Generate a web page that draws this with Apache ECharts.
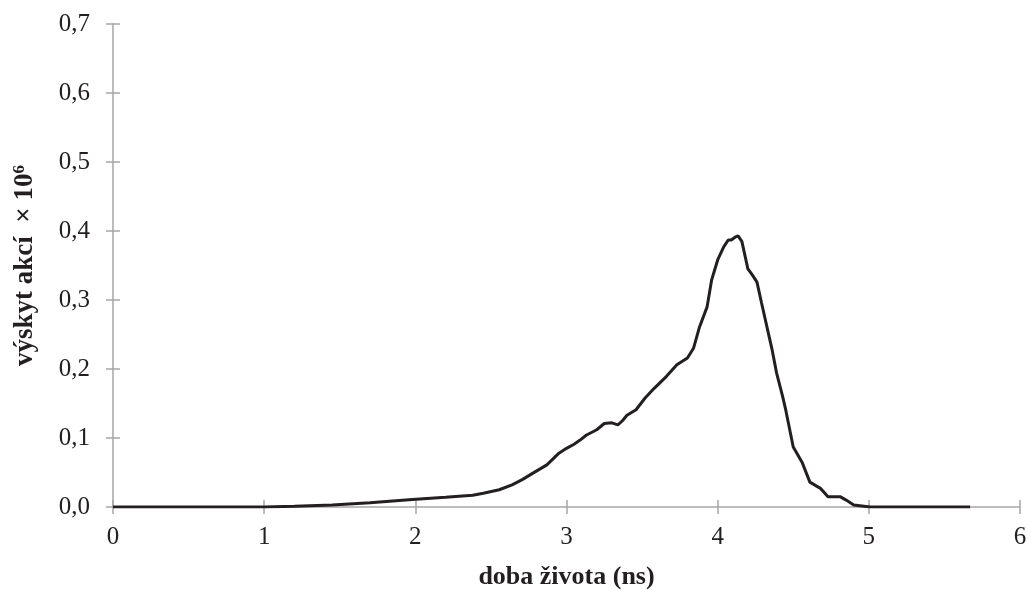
<!DOCTYPE html>
<html>
<head>
<meta charset="utf-8">
<script src="https://cdn.jsdelivr.net/npm/echarts@6/dist/echarts.min.js"></script>
<style>html,body{margin:0;padding:0;background:#fff}#c{width:1028px;height:590px}</style>
</head>
<body>
<div id="c"></div>
<script>
var lifetimeNs = [0, 0.5, 1.0, 1.2, 1.45, 1.7, 1.98, 2.2, 2.38, 2.45, 2.555, 2.64, 2.71, 2.77, 2.87, 2.95, 3.0, 3.05, 3.09, 3.13, 3.2, 3.25, 3.3, 3.34, 3.37, 3.4, 3.46, 3.52, 3.58, 3.66, 3.73, 3.8, 3.84, 3.88, 3.93, 3.96, 4.0, 4.04, 4.07, 4.09, 4.115, 4.135, 4.16, 4.18, 4.2, 4.23, 4.26, 4.29, 4.33, 4.36, 4.39, 4.43, 4.45, 4.5, 4.56, 4.61, 4.68, 4.73, 4.81, 4.85, 4.9, 5.01, 5.3, 5.67];
var occurrence = [0, 0, 0, 0.001, 0.003, 0.006, 0.011, 0.014, 0.017, 0.020, 0.025, 0.032, 0.040, 0.048, 0.061, 0.078, 0.085, 0.091, 0.097, 0.104, 0.112, 0.121, 0.122, 0.119, 0.125, 0.133, 0.141, 0.158, 0.172, 0.189, 0.206, 0.216, 0.230, 0.261, 0.290, 0.329, 0.358, 0.377, 0.387, 0.387, 0.391, 0.393, 0.385, 0.365, 0.345, 0.336, 0.326, 0.296, 0.257, 0.228, 0.194, 0.160, 0.141, 0.087, 0.064, 0.036, 0.027, 0.015, 0.015, 0.010, 0.003, 0, 0, 0];
var xTickLabels = ['0', '1', '2', '3', '4', '5', '6'];
var yTickLabels = ['0,0', '0,1', '0,2', '0,3', '0,4', '0,5', '0,6', '0,7'];
var xTitle = 'doba života (ns)';
var yTitle = 'výskyt akcí  × 10';

var font = '"Liberation Serif", "Times New Roman", serif';
var axisGray = '#a6a6a6';
var textCol = '#231f20';

var seriesData = lifetimeNs.map(function (x, i) { return [x, occurrence[i]]; });

var chart = echarts.init(document.getElementById('c'), null, {renderer: 'canvas'});
var baseX = {
  type: 'value', min: 0, max: 6, interval: 1, position: 'bottom',
  splitLine: {show: false}
};
var baseY = {
  type: 'value', min: 0, max: 0.7, interval: 0.1, position: 'left',
  splitLine: {show: false}
};
chart.setOption({
  animation: false,
  backgroundColor: '#fff',
  grid: {left: 113, right: 8, top: 24, bottom: 83, containLabel: false, outerBoundsMode: 'none'},
  xAxis: [
    Object.assign({}, baseX, {
      axisLine: {show: true, lineStyle: {color: axisGray, width: 1.5}},
      axisTick: {show: true, inside: false, length: 7, lineStyle: {color: axisGray, width: 1.5}},
      axisLabel: {show: true, margin: 18, color: textCol, fontFamily: font, fontSize: 25,
        formatter: function (v) { return xTickLabels[Math.round(v)]; }},
      name: xTitle, nameLocation: 'middle', nameGap: 57,
      nameTextStyle: {fontFamily: font, fontSize: 26, fontWeight: 'bold', color: textCol}
    }),
    Object.assign({}, baseX, {
      axisLine: {show: false},
      axisTick: {show: true, inside: true, length: 7, lineStyle: {color: axisGray, width: 1.5}},
      axisLabel: {show: false}
    })
  ],
  yAxis: [
    Object.assign({}, baseY, {
      axisLine: {show: true, lineStyle: {color: axisGray, width: 1.5}},
      axisTick: {show: true, inside: false, length: 7, lineStyle: {color: axisGray, width: 1.5}},
      axisLabel: {show: true, margin: 23, color: textCol, fontFamily: font, fontSize: 25,
        formatter: function (v) { return yTickLabels[Math.round(v * 10)]; }},
      name: '{a|' + yTitle + '}{s|6}', nameLocation: 'middle', nameGap: 74, nameRotate: 90,
      nameTextStyle: {
        color: textCol,
        rich: {
          a: {fontFamily: font, fontSize: 27, fontWeight: 'bold', color: textCol},
          s: {fontFamily: font, fontSize: 17, fontWeight: 'bold', color: textCol, padding: [0, 0, 11, 0]}
        }
      }
    }),
    Object.assign({}, baseY, {
      axisLine: {show: false},
      axisTick: {show: true, inside: true, length: 7, lineStyle: {color: axisGray, width: 1.5}},
      axisLabel: {show: false}
    })
  ],
  series: [{
    type: 'line',
    xAxisIndex: 0, yAxisIndex: 0,
    data: seriesData,
    showSymbol: false,
    smooth: false,
    lineStyle: {color: textCol, width: 3},
    z: 5
  }]
});
</script>
</body>
</html>
